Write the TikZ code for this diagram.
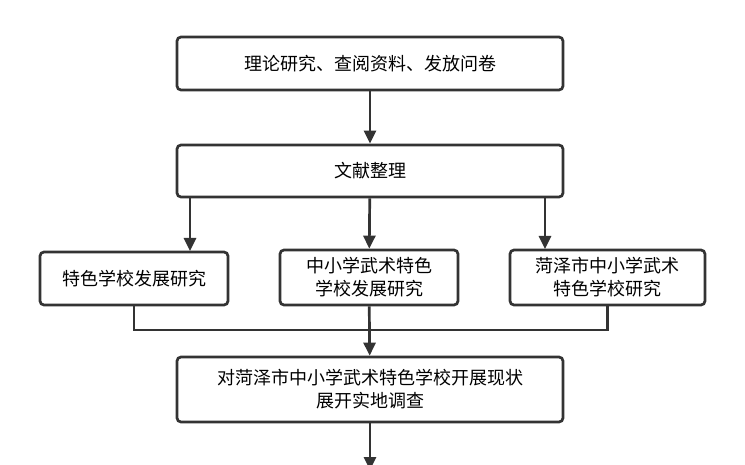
\documentclass[tikz,border=0pt]{standalone}
\usepackage{fontspec}
\setmainfont{Noto Sans CJK SC}
\usetikzlibrary{arrows.meta}
\begin{document}
\begin{tikzpicture}[x=1pt,y=-1pt,
  box/.style={draw=black!80,line width=2.7pt,rounded corners=4pt,fill=white,align=center,font=\fontsize{18}{23}\selectfont,inner sep=0pt},
  arr/.style={draw=black!80,line width=2.7pt,-{Triangle[length=13pt,width=12pt]}},
  ln/.style={draw=black!80,line width=2.7pt}]
\useasboundingbox (0,0) rectangle (745,465);
\node[box,minimum width=386pt,minimum height=53pt] (a) at (370,63.5) {理论研究、查阅资料、发放问卷};
\node[box,minimum width=386pt,minimum height=52pt] (b) at (370,171) {文献整理};
\node[box,minimum width=188pt,minimum height=53pt] (c) at (134,278.5) {特色学校发展研究};
\node[box,minimum width=178pt,minimum height=55pt] (d) at (369,277.5) {中小学武术特色\\学校发展研究};
\node[box,minimum width=195pt,minimum height=55pt] (e) at (607.5,277.5) {菏泽市中小学武术\\特色学校研究};
\node[box,minimum width=386pt,minimum height=65pt] (f) at (370,389.5) {对菏泽市中小学武术特色学校开展现状\\展开实地调查};
\coordinate (m) at (370,330);
\coordinate (end) at (370,470);
\draw[arr] (a) -- (b);
\draw[arr] (b.south -| 190,0) -- (190,251);
\draw[arr] (b) -- (d);
\draw[arr] (b.south -| 545,0) -- (545,249);
\draw[ln] (c.south) |- (m) -| (e.south);
\draw[arr] (d) -- (f);
\draw[arr] (f) -- (end);
\end{tikzpicture}
\end{document}
